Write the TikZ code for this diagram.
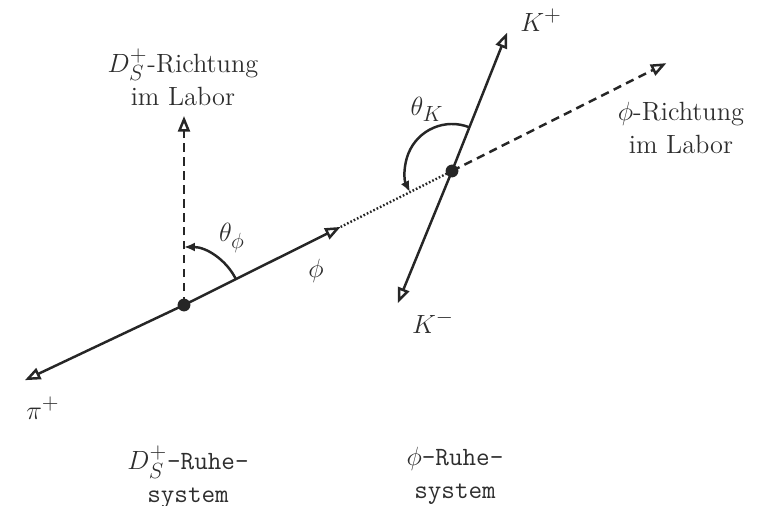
\documentclass[tikz,border=0pt]{standalone}
\usetikzlibrary{arrows.meta,calc}
\DeclareMathSizes{14.4}{14.4}{12}{9}
\definecolor{kinink}{HTML}{262626}
\definecolor{kintext}{HTML}{2E2E2E}
\tikzset{
  track/.style={line width=1.35pt,draw=kinink,-{Triangle[open,length=8.5pt,width=6.5pt]}},
  labdir/.style={track,dash pattern=on 4.6pt off 3pt},
  boost/.style={line width=1.3pt,draw=kinink,dash pattern=on 0.9pt off 1.1pt},
  angarc/.style={line width=1.35pt,draw=kinink,-{Latex[length=6pt,width=5pt]}},
  vertex/.style={circle,fill=kinink,inner sep=0pt,minimum size=7pt},
  lbl/.style={text=kintext,inner sep=1pt,align=center},
  frame/.style={lbl,font=\Large\ttfamily},
}

\begin{document}
\begin{tikzpicture}[x=0.0192cm,y=0.0192cm,font=\Large]
  \useasboundingbox (0,0) rectangle (771,506);

  % the two decay vertices
  \coordinate (ds) at (184,201);
  \coordinate (phc) at (452,335);

  % track end points
  \coordinate (pitip) at ($(ds)+(205.3:176)$);
  \coordinate (phitip) at ($(ds)+(26.5:175)$);
  \coordinate (dsdir) at ($(ds)+(90:189)$);
  \coordinate (phidir) at ($(phc)+(26.7:240)$);
  \coordinate (kptip) at ($(phc)+(68.3:149)$);
  \coordinate (kmtip) at ($(phc)+(247.7:143)$);

  \draw[labdir] (ds) -- (dsdir);
  \draw[track] (ds) -- (pitip);
  \draw[track] (ds) -- (phitip);
  \draw[boost] (phitip) -- (phc);
  \draw[labdir] (phc) -- (phidir);
  \draw[track] (phc) -- (kptip);
  \draw[track] (phc) -- (kmtip);

  \draw[angarc] ($(ds)+(26.5:58)$) arc[start angle=26.5,end angle=90,radius=1.1136cm];
  \draw[angarc] ($(phc)+(68.3:47)$) arc[start angle=68.3,end angle=206.6,radius=0.9024cm];

  \node[vertex] (dsv) at (ds) {};
  \node[vertex] (phv) at (phc) {};

  % labels
  \node[lbl] (dsdirlbl) at (183,429) {$D_S^+$-Richtung\\im Labor};
  \node[lbl] (phidirlbl) at (681,378) {$\phi$-Richtung\\im Labor};
  \node[lbl] (kplbl) at (541,486) {$K^+$};
  \node[lbl] (kmlbl) at (433,184) {$K^-$};
  \node[lbl] (thklbl) at (427,397) {$\theta_K$};
  \node[lbl] (thphlbl) at (232,268) {$\theta_\phi$};
  \node[lbl] (phlbl) at (316,235) {$\phi$};
  \node[lbl] (pilbl) at (43,98) {$\pi^+$};
  \node[frame] (dsframe) at (188,29) {$D_S^+$-Ruhe-\\system};
  \node[frame] (phframe) at (455,30) {$\phi$-Ruhe-\\system};
\end{tikzpicture}
\end{document}
